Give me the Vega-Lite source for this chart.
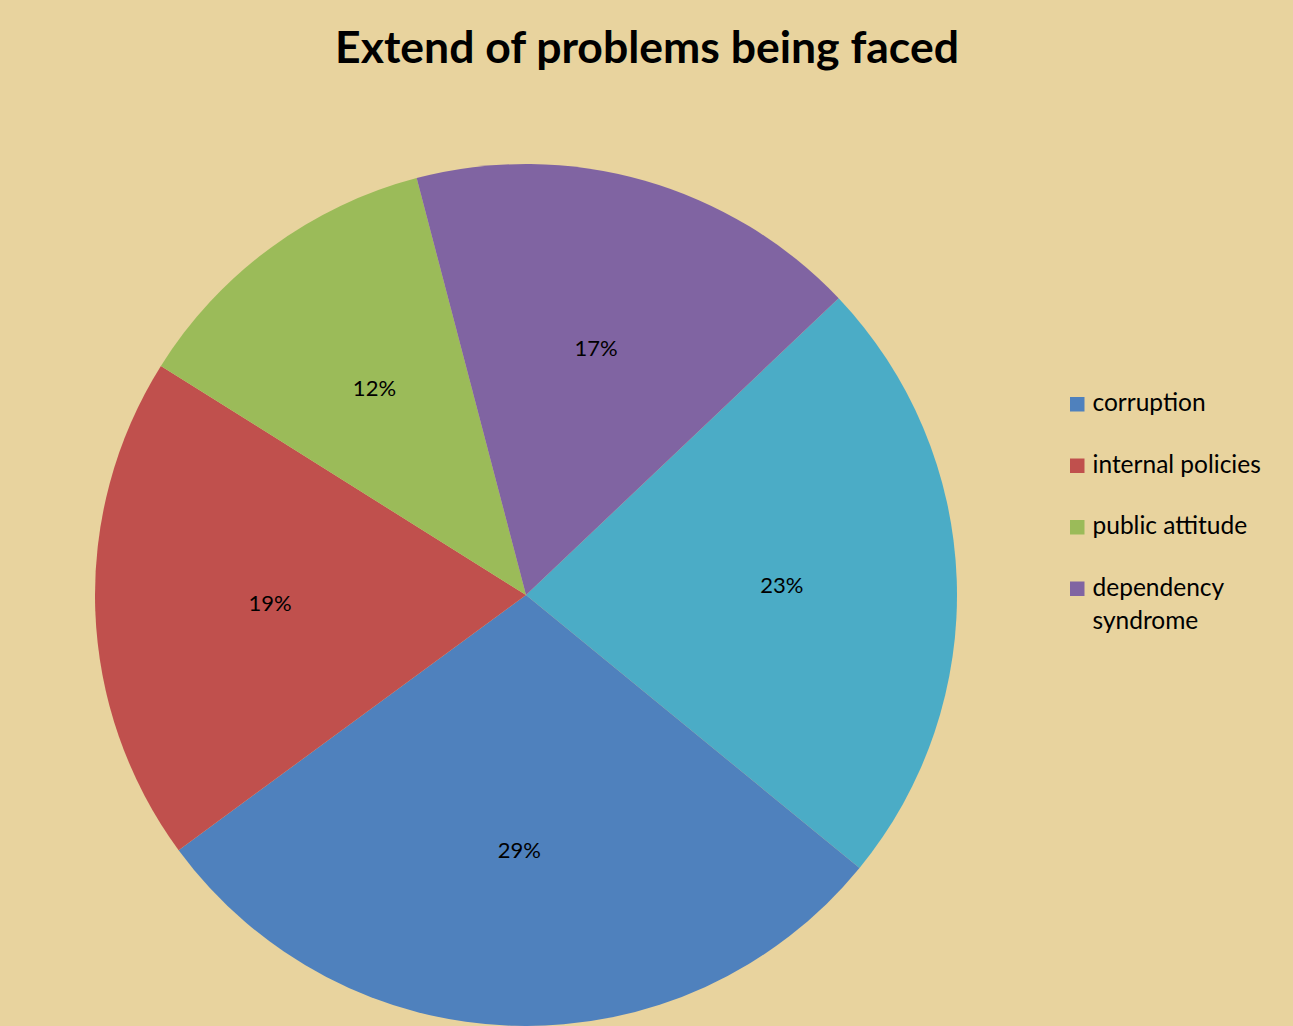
{
  "$schema": "https://vega.github.io/schema/vega-lite/v6.json",
  "autosize": "none",
  "width": 1052,
  "height": 862,
  "padding": {"left": 0, "top": 164, "right": 241, "bottom": 0},
  "background": "#E8D39E",
  "config": {"view": {"stroke": null}, "style": {"guide-label": {"lineHeight": 33}}},
  "title": {
    "text": "Extend of problems being faced",
    "font": "Lato",
    "fontSize": 44.5,
    "fontWeight": "bold",
    "color": "#000000",
    "anchor": "middle",
    "frame": "group",
    "dx": 121,
    "offset": 92
  },
  "data": {
    "values": [
      {"category": "other", "share": 0.23},
      {"category": "corruption", "share": 0.29},
      {"category": "internal policies", "share": 0.19},
      {"category": "public attitude", "share": 0.12},
      {"category": "dependency syndrome", "share": 0.17}
    ]
  },
  "transform": [{"window": [{"op": "row_number", "as": "idx"}]}],
  "encoding": {
    "theta": {"field": "share", "type": "quantitative", "stack": true, "scale": {"range": [0.8116, 7.0948]}},
    "order": {"field": "idx", "type": "quantitative"}
  },
  "layer": [
    {
      "mark": {"type": "arc", "outerRadius": 431, "stroke": null},
      "encoding": {
        "color": {
          "field": "category",
          "type": "nominal",
          "scale": {
            "domain": ["corruption", "internal policies", "public attitude", "dependency syndrome", "other"],
            "range": ["#4F81BD", "#C0504D", "#9BBB59", "#8064A2", "#4BACC6"]
          },
          "legend": {
            "values": ["corruption", "internal policies", "public attitude", "dependency syndrome"],
            "title": null,
            "orient": "none",
            "legendX": 1065,
            "legendY": 228,
            "padding": 0,
            "symbolType": "square",
            "symbolSize": 210,
            "symbolStrokeWidth": 0,
            "labelFont": "Lato",
            "labelFontSize": 24.5,
            "labelColor": "#000000",
            "labelOffset": 3,
            "labelLimit": 300,
            "rowPadding": 36.5,
            "labelExpr": "datum.label == 'dependency syndrome' ? ['dependency', 'syndrome'] : datum.label",
            "encode": {"labels": {"update": {"lineHeight": {"value": 33}}}}
          }
        }
      }
    },
    {
      "mark": {"type": "text", "radius": 256, "font": "Lato", "fontSize": 22, "color": "#000000"},
      "encoding": {
        "text": {"field": "share", "type": "quantitative", "format": ".0%"},
        "detail": {"field": "category"}
      }
    }
  ]
}
